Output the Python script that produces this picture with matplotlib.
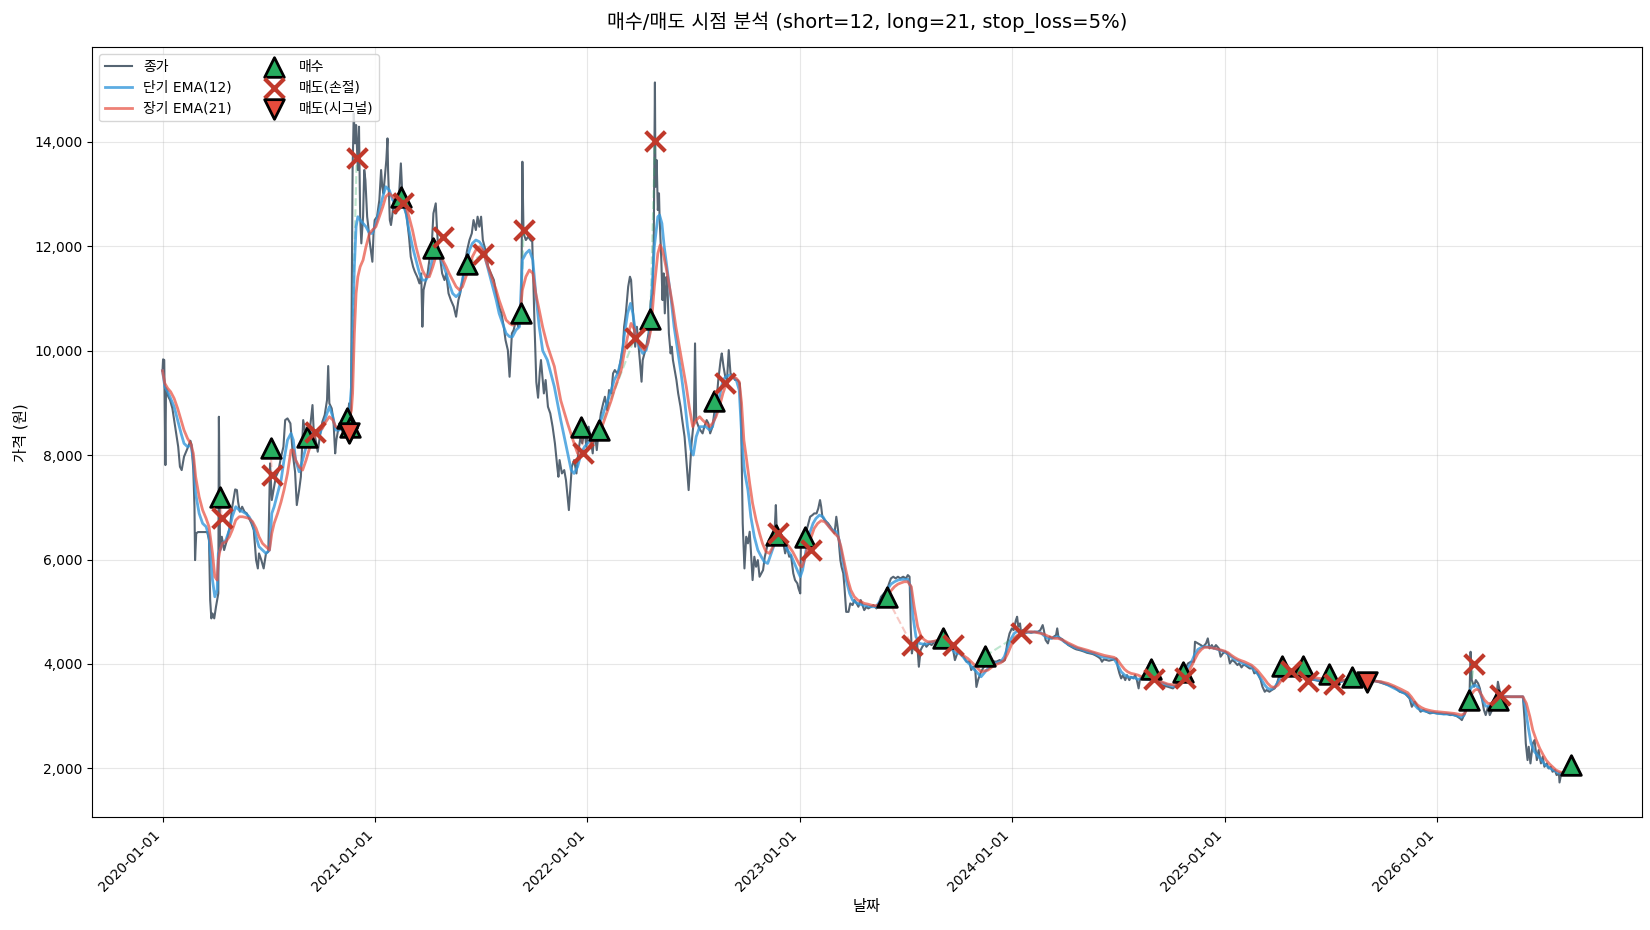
import numpy as np
import pandas as pd
import matplotlib
matplotlib.use('Agg')
from matplotlib import pyplot as plt
from matplotlib.ticker import FuncFormatter
import matplotlib.dates as mdates

plt.rcParams['font.family'] = ['DejaVu Sans', 'Noto Sans CJK KR']
plt.rcParams['axes.unicode_minus'] = False

START = pd.Timestamp('2020-01-01')

# (days since 2020-01-01, price)
close_pts = [
    (0, 9617), (1, 9835), (3, 9822), (5, 7810), (6, 9279), (10, 9119), (13, 9055), (17, 8896),
    (20, 8672), (23, 8449), (27, 8161), (30, 7778), (33, 7714), (37, 7970), (43, 8130), (48, 8276),
    (50, 8193), (53, 7714), (55, 7012), (56, 5990), (58, 6501), (61, 6527), (77, 6527), (80, 6373),
    (82, 5224), (84, 4873), (86, 4968), (89, 4873), (92, 5096), (96, 5352), (97, 8736), (99, 6182),
    (102, 6437), (106, 6182), (110, 6341), (113, 6501), (116, 6629), (120, 7012), (125, 7344),
    (128, 7331), (130, 7108), (133, 6916), (137, 7012), (141, 6916), (145, 6884), (149, 6788),
    (153, 6692), (157, 6565), (161, 5990), (164, 5830), (166, 6118), (170, 5990), (174, 5830),
    (178, 6118), (182, 6150), (185, 7842), (188, 7140), (191, 7331), (195, 7587), (199, 7682),
    (204, 7970), (208, 8161), (211, 8672), (215, 8704), (220, 8608), (224, 8034), (228, 7682),
    (231, 7044), (235, 7331), (238, 7587), (242, 8672), (245, 8480), (250, 8289), (254, 8544),
    (258, 8960), (260, 8480), (263, 8321), (267, 8066), (271, 8385), (275, 8640), (279, 8768),
    (283, 9055), (285, 9707), (287, 8992), (291, 8896), (294, 8672), (297, 8034), (299, 8289),
    (302, 8480), (307, 8512), (311, 8417), (315, 8480), (318, 8672), (321, 8992), (324, 8608),
    (327, 13500), (329, 14547), (331, 13973), (333, 14324), (336, 13462), (338, 14292), (340, 12568),
    (342, 12057), (345, 12568), (347, 13462), (349, 13270), (352, 12568), (354, 12376), (356, 12121),
    (359, 11865), (361, 11705), (363, 12248), (365, 12504), (369, 12568), (373, 12887), (376, 13462),
    (378, 13142), (380, 13015), (383, 13398), (385, 13653), (387, 14068), (388, 13462), (391, 12504),
    (393, 12408), (395, 12568), (398, 12887), (400, 12759), (402, 12632), (404, 12823), (407, 13015),
    (410, 13589), (413, 12887), (416, 12759), (420, 12568), (424, 12185), (427, 11801), (431, 11610),
    (434, 11514), (438, 11418), (442, 11290), (445, 11482), (447, 10460), (449, 11163), (453, 11354),
    (456, 11482), (459, 11738), (463, 11993), (466, 12632), (470, 12823), (472, 12376), (474, 11993),
    (478, 11738), (481, 11482), (485, 11354), (488, 11482), (492, 11099), (496, 10971), (501, 10843),
    (505, 10652), (509, 10971), (512, 11099), (516, 11354), (519, 11610), (524, 11929), (528, 12121),
    (532, 12248), (535, 12504), (539, 12312), (542, 12568), (545, 12376), (548, 12568), (551, 12121),
    (554, 11993), (557, 11865), (560, 11610), (565, 11482), (570, 11354), (574, 11099), (579, 10843),
    (583, 10716), (587, 10460), (590, 10205), (594, 10013), (597, 9502), (601, 10333), (604, 10397),
    (608, 10588), (612, 10460), (615, 10716), (617, 10600), (619, 13621), (621, 12248), (625, 12121),
    (629, 12185), (633, 12121), (636, 12089), (640, 10460), (643, 9400), (646, 9100), (649, 9600),
    (651, 9822), (656, 9183), (659, 9439), (663, 8928), (667, 8800), (671, 8545), (675, 8225),
    (679, 7778), (681, 7586), (683, 7906), (687, 7650), (691, 7714), (694, 7522), (699, 6948),
    (704, 7778), (708, 7906), (712, 7650), (715, 8034), (719, 8353), (722, 8225), (726, 8481),
    (729, 8161), (733, 8545), (736, 8353), (740, 8034), (743, 8481), (747, 8097), (751, 8545),
    (754, 8800), (758, 8992), (761, 9119), (765, 8864), (768, 9247), (772, 9183), (775, 9566),
    (778, 9630), (782, 9566), (785, 9630), (789, 9886), (792, 10077), (794, 10460), (797, 10716),
    (799, 10971), (801, 11227), (804, 11418), (806, 11354), (808, 10971), (811, 10460), (813, 10077),
    (816, 10460), (819, 10077), (821, 9822), (824, 9407), (826, 9822), (829, 9949), (832, 10077),
    (836, 10333), (838, 10588), (840, 10971), (843, 11099), (845, 12121), (847, 15140), (848, 13142),
    (850, 13653), (852, 12695), (854, 13015), (855, 12568), (858, 11738), (860, 10971), (862, 11482),
    (864, 10716), (867, 11418), (869, 11099), (871, 10333), (874, 9949), (876, 10077), (878, 9822),
    (880, 9694), (884, 9439), (887, 9183), (891, 8928), (894, 8672), (898, 8353), (901, 7906),
    (905, 7331), (910, 8225), (914, 8672), (916, 10141), (918, 8672), (922, 8545), (925, 8481),
    (929, 8417), (932, 8545), (936, 8672), (939, 8608), (942, 8417), (946, 8545), (949, 8800),
    (953, 9055), (956, 9439), (960, 9822), (962, 9949), (965, 9694), (968, 9502), (971, 9439),
    (974, 10013), (977, 9566), (981, 9502), (985, 9439), (989, 9439), (993, 9375), (995, 8864),
    (998, 6693), (1001, 5830), (1004, 6437), (1007, 6310), (1010, 6533), (1012, 6182), (1015, 5607),
    (1018, 6054), (1021, 5862), (1024, 5990), (1027, 5671), (1030, 5735), (1033, 5798), (1036, 6054),
    (1040, 6246), (1043, 6373), (1047, 6437), (1050, 6373), (1053, 6565), (1055, 7044), (1057, 6437),
    (1061, 6310), (1064, 6373), (1067, 6373), (1071, 6118), (1074, 6246), (1078, 6054), (1081, 6086),
    (1085, 5735), (1088, 5607), (1092, 5543), (1094, 5447), (1097, 5351), (1098, 6246), (1101, 6437),
    (1104, 6373), (1108, 6565), (1111, 6693), (1114, 6820), (1118, 6852), (1121, 6884), (1125, 6884),
    (1128, 6980), (1131, 7140), (1133, 7012), (1135, 6820), (1139, 6757), (1142, 6725), (1145, 6693),
    (1149, 6629), (1152, 6565), (1156, 6501), (1159, 6820), (1162, 6565), (1164, 6246), (1166, 5990),
    (1168, 5862), (1171, 5735), (1173, 5479), (1176, 4998), (1180, 4998), (1183, 5160), (1187, 5128),
    (1190, 5224), (1194, 5160), (1197, 5096), (1201, 5224), (1204, 5128), (1207, 5032), (1211, 5096),
    (1214, 5064), (1219, 5096), (1223, 5128), (1228, 5064), (1232, 5160), (1236, 5288), (1241, 5351),
    (1245, 5383), (1250, 5550), (1253, 5639), (1257, 5671), (1261, 5639), (1265, 5671), (1269, 5639),
    (1274, 5671), (1279, 5639), (1282, 5703), (1285, 5671), (1287, 4713), (1289, 4202), (1291, 4330),
    (1295, 4266), (1298, 4394), (1301, 3947), (1304, 4266), (1307, 4330), (1311, 4394), (1314, 4330),
    (1319, 4394), (1323, 4362), (1328, 4426), (1331, 4394), (1335, 4458), (1338, 4426), (1342, 4458),
    (1345, 4426), (1349, 4394), (1352, 4330), (1355, 4394), (1360, 4266), (1363, 4074), (1367, 4202),
    (1370, 4266), (1374, 4202), (1378, 4138), (1383, 4043), (1388, 4043), (1391, 3883), (1394, 3947),
    (1398, 3883), (1400, 3560), (1403, 3700), (1408, 3851), (1413, 3947), (1418, 4100), (1425, 4060),
    (1434, 4043), (1440, 4075), (1445, 4043), (1449, 4075), (1453, 4394), (1457, 4585), (1461, 4681),
    (1464, 4649), (1468, 4841), (1470, 4905), (1472, 4713), (1475, 4777), (1477, 4585), (1480, 4649),
    (1484, 4585), (1488, 4617), (1494, 4598), (1500, 4617), (1506, 4617), (1510, 4649), (1514, 4745),
    (1516, 4649), (1519, 4458), (1523, 4394), (1526, 4522), (1530, 4490), (1533, 4522), (1537, 4553),
    (1539, 4681), (1541, 4522), (1545, 4490), (1548, 4471), (1551, 4426), (1555, 4394), (1558, 4362),
    (1563, 4330), (1568, 4298), (1572, 4279), (1577, 4266), (1581, 4253), (1586, 4234), (1590, 4215),
    (1595, 4202), (1600, 4190), (1604, 4170), (1609, 4138), (1613, 4106), (1616, 4043), (1619, 4087),
    (1624, 4075), (1628, 4062), (1633, 4075), (1637, 4087), (1641, 4106), (1643, 3947), (1646, 3819),
    (1649, 3723), (1652, 3787), (1656, 3691), (1659, 3787), (1663, 3691), (1666, 3755), (1670, 3723),
    (1673, 3787), (1676, 3691), (1679, 3532), (1681, 3691), (1685, 3755), (1689, 3819), (1695, 3735),
    (1706, 3700), (1718, 3596), (1729, 3564), (1738, 3532), (1747, 3628), (1758, 3883), (1764, 4011),
    (1769, 4043), (1774, 4043), (1776, 4426), (1781, 4394), (1786, 4362), (1790, 4330), (1795, 4394),
    (1798, 4490), (1801, 4298), (1805, 4362), (1808, 4298), (1812, 4362), (1817, 4298), (1820, 4139),
    (1824, 4203), (1828, 4235), (1833, 4171), (1836, 4011), (1840, 4075), (1844, 4043), (1849, 3979),
    (1852, 4011), (1856, 3934), (1859, 3979), (1862, 3979), (1866, 3947), (1870, 3915), (1875, 3915),
    (1878, 3819), (1882, 3851), (1885, 3788), (1889, 3692), (1892, 3564), (1896, 3468), (1899, 3500),
    (1904, 3468), (1908, 3500), (1913, 3532), (1917, 3628), (1922, 3819), (1927, 3883), (1931, 3915),
    (1936, 3883), (1940, 3851), (1945, 3819), (1950, 3788), (1954, 3768), (1959, 3756), (1964, 3743),
    (1970, 3724), (1976, 3705), (1982, 3692), (1987, 3679), (1993, 3660), (1999, 3660), (2005, 3641),
    (2010, 3628), (2016, 3628), (2028, 3660), (2039, 3724), (2051, 3743), (2062, 3724), (2073, 3692),
    (2085, 3679), (2096, 3640), (2108, 3596), (2119, 3551), (2128, 3468), (2137, 3436), (2145, 3340),
    (2149, 3180), (2154, 3277), (2159, 3180), (2164, 3085), (2169, 3117), (2174, 3085), (2180, 3053),
    (2186, 3066), (2192, 3053), (2197, 3050), (2203, 3040), (2209, 3045), (2215, 3021), (2220, 3025),
    (2226, 3002), (2232, 2957), (2235, 2925), (2240, 3053), (2244, 3180), (2248, 3308), (2250, 4234),
    (2252, 3691), (2256, 3564), (2259, 3691), (2263, 3627), (2266, 3532), (2270, 3308), (2273, 3117),
    (2276, 3021), (2280, 3180), (2283, 3021), (2287, 3117), (2290, 3244), (2294, 3308), (2297, 3659),
    (2301, 3436), (2304, 3372), (2309, 3372), (2314, 3372), (2323, 3372), (2332, 3372), (2340, 3372),
    (2343, 2925), (2345, 2478), (2348, 2159), (2350, 2414), (2353, 2095), (2357, 2478), (2360, 2542),
    (2364, 2159), (2367, 2350), (2371, 2095), (2374, 2223), (2377, 2031), (2381, 2095), (2384, 1999),
    (2388, 2031), (2391, 1935), (2395, 1967), (2398, 1871), (2402, 1903), (2403, 1730), (2406, 1903),
    (2415, 1960), (2423, 2000),
]

ema_short_pts = [
    (0, 9617), (4, 9311), (9, 9215), (14, 9087), (20, 8928), (26, 8672), (32, 8417), (37, 8225),
    (43, 8161), (49, 8193), (53, 7906), (57, 7267), (63, 6884), (69, 6693), (75, 6629), (80, 6437),
    (86, 5607), (90, 5288), (94, 5415), (96, 6118), (99, 6182), (103, 6310), (109, 6373), (115, 6565),
    (120, 6820), (126, 7012), (132, 6948), (138, 6916), (143, 6884), (149, 6820), (155, 6693),
    (161, 6437), (166, 6246), (172, 6182), (178, 6118), (184, 6182), (188, 6884), (192, 7012),
    (198, 7267), (204, 7523), (209, 7906), (215, 8289), (221, 8417), (225, 8289), (229, 7906),
    (235, 7682), (241, 7906), (247, 8161), (252, 8289), (258, 8480), (264, 8417), (270, 8385),
    (275, 8544), (281, 8736), (287, 8928), (293, 8736), (298, 8480), (304, 8480), (310, 8544),
    (316, 8608), (321, 8736), (325, 9311), (327, 10333), (330, 11610), (333, 12376), (336, 12568),
    (340, 12504), (345, 12440), (350, 12376), (356, 12248), (361, 12248), (367, 12440), (373, 12695),
    (379, 12951), (384, 13142), (390, 13079), (396, 12887), (402, 12823), (407, 12887), (413, 12823),
    (419, 12632), (424, 12312), (430, 11993), (436, 11738), (442, 11482), (447, 11354), (453, 11354),
    (459, 11482), (465, 11801), (470, 11993), (476, 11865), (482, 11674), (488, 11482), (493, 11290),
    (499, 11099), (505, 11035), (511, 11099), (516, 11354), (522, 11674), (528, 11929), (533, 12057),
    (539, 12121), (545, 12089), (551, 11993), (556, 11738), (562, 11482), (568, 11227), (574, 10971),
    (579, 10716), (585, 10524), (591, 10333), (597, 10269), (602, 10269), (608, 10397), (614, 10460),
    (619, 11738), (625, 11865), (631, 11929), (637, 11738), (642, 11099), (648, 10460), (654, 10000),
    (662, 9822), (674, 9311), (685, 8672), (697, 8034), (703, 7714), (708, 7650), (714, 7778),
    (720, 8034), (726, 8161), (731, 8225), (737, 8289), (743, 8353), (749, 8481), (754, 8672),
    (760, 8864), (766, 9055), (772, 9247), (777, 9439), (783, 9566), (789, 9822), (794, 10269),
    (800, 10716), (805, 10907), (809, 10716), (814, 10333), (820, 10077), (826, 9949), (832, 10013),
    (837, 10269), (841, 10971), (846, 11993), (852, 12568), (855, 12600), (859, 12440), (863, 11993),
    (869, 11482), (875, 10971), (880, 10460), (886, 10013), (892, 9566), (898, 9055), (903, 8545),
    (909, 8097), (913, 8002), (918, 8353), (924, 8545), (929, 8545), (935, 8545), (941, 8481),
    (946, 8545), (952, 8800), (958, 9119), (964, 9439), (969, 9502), (975, 9534), (981, 9502),
    (987, 9439), (992, 9247), (997, 8225), (1001, 7700), (1007, 7331), (1012, 6820), (1018, 6437),
    (1024, 6182), (1030, 6054), (1035, 5958), (1041, 5926), (1047, 6118), (1053, 6310), (1058, 6405),
    (1064, 6373), (1070, 6310), (1075, 6182), (1081, 6086), (1087, 5926), (1093, 5767), (1097, 5671),
    (1101, 5799), (1107, 6182), (1113, 6501), (1119, 6693), (1124, 6788), (1130, 6852), (1136, 6820),
    (1141, 6725), (1147, 6629), (1153, 6565), (1159, 6533), (1164, 6373), (1170, 5990), (1176, 5607),
    (1182, 5351), (1187, 5224), (1193, 5173), (1199, 5147), (1205, 5128), (1210, 5115), (1219, 5096),
    (1227, 5096), (1236, 5224), (1242, 5339), (1248, 5447), (1253, 5530), (1259, 5575), (1265, 5607),
    (1271, 5620), (1276, 5620), (1282, 5620), (1287, 5479), (1291, 4904), (1296, 4521), (1302, 4394),
    (1308, 4381), (1314, 4381), (1319, 4407), (1325, 4426), (1331, 4438), (1336, 4445), (1342, 4445),
    (1348, 4413), (1354, 4362), (1359, 4266), (1365, 4202), (1371, 4202), (1377, 4138), (1382, 4062),
    (1388, 3998), (1394, 3915), (1400, 3851), (1408, 3755), (1420, 3915), (1431, 4011), (1442, 4043),
    (1448, 4138), (1454, 4330), (1460, 4490), (1465, 4585), (1471, 4636), (1477, 4617), (1483, 4605),
    (1488, 4605), (1494, 4611), (1500, 4611), (1506, 4611), (1511, 4598), (1517, 4534), (1523, 4490),
    (1529, 4490), (1534, 4509), (1540, 4522), (1546, 4471), (1551, 4426), (1557, 4381), (1563, 4349),
    (1569, 4317), (1574, 4298), (1580, 4279), (1586, 4253), (1592, 4234), (1597, 4221), (1603, 4202),
    (1609, 4170), (1615, 4138), (1620, 4126), (1626, 4119), (1632, 4106), (1637, 4094), (1643, 3979),
    (1649, 3851), (1655, 3787), (1660, 3755), (1666, 3743), (1672, 3736), (1678, 3704), (1683, 3724),
    (1695, 3705), (1706, 3679), (1718, 3641), (1729, 3596), (1741, 3564), (1747, 3615), (1752, 3724),
    (1758, 3819), (1764, 3934), (1769, 4011), (1775, 4171), (1781, 4279), (1787, 4318), (1792, 4330),
    (1798, 4330), (1804, 4318), (1810, 4298), (1815, 4279), (1821, 4254), (1827, 4228), (1833, 4190),
    (1838, 4139), (1844, 4088), (1850, 4062), (1856, 4024), (1861, 3998), (1867, 3973), (1873, 3947),
    (1878, 3883), (1884, 3807), (1890, 3705), (1896, 3596), (1901, 3532), (1907, 3513), (1913, 3551),
    (1919, 3660), (1924, 3768), (1930, 3832), (1936, 3851), (1942, 3832), (1947, 3807), (1953, 3781),
    (1959, 3768), (1965, 3743), (1970, 3724), (1982, 3705), (1993, 3679), (2005, 3666), (2016, 3654),
    (2028, 3666), (2039, 3705), (2051, 3717), (2062, 3711), (2073, 3692), (2085, 3673), (2096, 3654),
    (2108, 3596), (2119, 3532), (2131, 3468), (2142, 3404), (2148, 3308), (2154, 3213), (2159, 3149),
    (2165, 3117), (2171, 3098), (2177, 3085), (2182, 3072), (2188, 3066), (2194, 3053), (2200, 3047),
    (2205, 3040), (2211, 3040), (2217, 3034), (2222, 3021), (2228, 3002), (2234, 2976), (2239, 3021),
    (2243, 3180), (2247, 3372), (2250, 3532), (2254, 3576), (2258, 3596), (2263, 3551), (2267, 3436),
    (2272, 3277), (2276, 3193), (2281, 3193), (2286, 3232), (2290, 3308), (2295, 3372), (2300, 3385),
    (2309, 3378), (2320, 3372), (2332, 3372), (2340, 3372), (2344, 3180), (2349, 2798), (2354, 2478),
    (2360, 2318), (2366, 2235), (2372, 2159), (2377, 2082), (2383, 2031), (2389, 1986), (2395, 1954),
    (2400, 1916), (2406, 1903), (2423, 1920),
]

ema_long_pts = [
    (0, 9617), (4, 9375), (9, 9279), (14, 9215), (20, 9087), (26, 8896), (32, 8672), (37, 8480),
    (43, 8321), (49, 8212), (53, 8034), (57, 7587), (63, 7203), (69, 6948), (75, 6788), (80, 6629),
    (86, 6118), (90, 5671), (94, 5607), (96, 5990), (99, 6182), (103, 6310), (109, 6341), (115, 6437),
    (120, 6565), (126, 6756), (132, 6820), (138, 6820), (143, 6807), (149, 6788), (155, 6725),
    (161, 6597), (166, 6437), (172, 6310), (178, 6246), (184, 6182), (188, 6501), (192, 6693),
    (198, 6884), (204, 7108), (209, 7331), (215, 7650), (221, 8098), (225, 8098), (229, 7906),
    (235, 7778), (241, 7714), (247, 7906), (252, 8098), (258, 8289), (264, 8385), (270, 8480),
    (275, 8512), (281, 8640), (287, 8736), (293, 8672), (298, 8544), (304, 8512), (310, 8544),
    (316, 8576), (321, 8672), (325, 8864), (327, 9183), (330, 10333), (333, 11099), (336, 11418),
    (340, 11610), (345, 11738), (350, 11993), (356, 12248), (361, 12312), (367, 12376), (373, 12568),
    (379, 12759), (384, 12951), (390, 13015), (396, 12951), (402, 12887), (407, 12887), (413, 12855),
    (419, 12759), (424, 12568), (430, 12312), (436, 11993), (442, 11738), (447, 11546), (453, 11418),
    (459, 11418), (465, 11610), (470, 11801), (476, 11801), (482, 11738), (488, 11610), (493, 11482),
    (499, 11354), (505, 11227), (511, 11163), (516, 11227), (522, 11418), (528, 11610), (533, 11801),
    (539, 11929), (545, 11993), (551, 11929), (556, 11738), (562, 11546), (568, 11354), (574, 11163),
    (579, 10971), (585, 10780), (591, 10588), (597, 10524), (602, 10492), (608, 10524), (614, 10588),
    (619, 11163), (625, 11418), (631, 11546), (637, 11482), (642, 11099), (648, 10780), (654, 10450),
    (662, 10100), (674, 9700), (685, 9050), (697, 8600), (708, 8225), (714, 8034), (720, 7970),
    (726, 8034), (731, 8097), (737, 8225), (743, 8289), (749, 8353), (754, 8481), (760, 8672),
    (766, 8864), (772, 9055), (777, 9247), (783, 9439), (789, 9630), (794, 9949), (800, 10269),
    (806, 10524), (812, 10397), (817, 10205), (823, 10077), (829, 10013), (835, 10141), (840, 10397),
    (846, 11227), (852, 11865), (856, 12025), (860, 11929), (866, 11610), (872, 11227), (878, 10843),
    (883, 10460), (889, 10077), (895, 9694), (901, 9311), (906, 8928), (912, 8545), (918, 8672),
    (924, 8736), (929, 8672), (935, 8608), (941, 8545), (946, 8608), (952, 8736), (958, 8928),
    (964, 9183), (969, 9343), (975, 9439), (981, 9502), (987, 9471), (992, 9407), (996, 9000),
    (1000, 8289), (1004, 7970), (1010, 7459), (1015, 7076), (1021, 6756), (1027, 6501), (1032, 6310),
    (1038, 6150), (1044, 6118), (1050, 6246), (1055, 6373), (1061, 6373), (1067, 6341), (1073, 6310),
    (1078, 6246), (1084, 6150), (1090, 6022), (1096, 5894), (1100, 5862), (1104, 5990), (1110, 6246),
    (1116, 6437), (1121, 6597), (1127, 6693), (1133, 6744), (1139, 6725), (1144, 6661), (1150, 6578),
    (1156, 6501), (1162, 6437), (1167, 6246), (1173, 5926), (1179, 5607), (1184, 5415), (1190, 5288),
    (1196, 5224), (1202, 5192), (1207, 5160), (1213, 5147), (1219, 5128), (1225, 5115), (1230, 5122),
    (1236, 5160), (1242, 5236), (1248, 5320), (1253, 5403), (1259, 5479), (1265, 5530), (1271, 5556),
    (1276, 5575), (1282, 5575), (1288, 5479), (1293, 5096), (1299, 4713), (1305, 4521), (1311, 4458),
    (1316, 4426), (1322, 4426), (1328, 4438), (1334, 4458), (1339, 4458), (1345, 4445), (1351, 4426),
    (1357, 4381), (1362, 4298), (1368, 4234), (1374, 4202), (1379, 4151), (1385, 4106), (1391, 4043),
    (1397, 3979), (1408, 3851), (1420, 3883), (1431, 3979), (1442, 4024), (1448, 4075), (1454, 4202),
    (1460, 4362), (1465, 4490), (1471, 4553), (1477, 4585), (1483, 4605), (1488, 4617), (1494, 4617),
    (1500, 4611), (1506, 4598), (1511, 4585), (1517, 4566), (1523, 4534), (1529, 4509), (1534, 4490),
    (1540, 4490), (1546, 4471), (1551, 4445), (1557, 4407), (1563, 4375), (1569, 4343), (1574, 4317),
    (1580, 4298), (1586, 4279), (1592, 4260), (1597, 4241), (1603, 4221), (1609, 4202), (1615, 4183),
    (1620, 4164), (1626, 4151), (1632, 4138), (1637, 4126), (1643, 4075), (1649, 3979), (1655, 3896),
    (1660, 3851), (1666, 3819), (1672, 3806), (1678, 3787), (1683, 3760), (1695, 3724), (1706, 3705),
    (1718, 3660), (1729, 3615), (1741, 3596), (1747, 3628), (1752, 3692), (1758, 3768), (1764, 3851),
    (1769, 3934), (1775, 4075), (1781, 4203), (1787, 4279), (1792, 4318), (1798, 4318), (1804, 4311),
    (1810, 4298), (1815, 4286), (1821, 4267), (1827, 4247), (1833, 4215), (1838, 4171), (1844, 4126),
    (1850, 4088), (1856, 4062), (1861, 4043), (1867, 4011), (1873, 3979), (1878, 3934), (1884, 3871),
    (1890, 3788), (1896, 3705), (1901, 3628), (1907, 3564), (1913, 3551), (1919, 3596), (1924, 3679),
    (1930, 3743), (1936, 3788), (1942, 3807), (1947, 3807), (1953, 3794), (1959, 3781), (1965, 3768),
    (1970, 3756), (1982, 3737), (1993, 3717), (2005, 3705), (2016, 3692), (2028, 3686), (2039, 3692),
    (2051, 3692), (2062, 3692), (2073, 3679), (2085, 3673), (2096, 3660), (2108, 3627), (2119, 3576),
    (2131, 3513), (2142, 3449), (2148, 3372), (2154, 3277), (2159, 3213), (2165, 3168), (2171, 3136),
    (2177, 3117), (2182, 3104), (2188, 3091), (2194, 3085), (2200, 3079), (2205, 3072), (2211, 3066),
    (2217, 3059), (2222, 3053), (2228, 3040), (2234, 3021), (2240, 3053), (2244, 3149), (2248, 3277),
    (2251, 3404), (2256, 3487), (2260, 3513), (2264, 3500), (2268, 3423), (2274, 3308), (2280, 3244),
    (2286, 3244), (2291, 3308), (2297, 3340), (2303, 3359), (2311, 3372), (2323, 3372), (2334, 3372),
    (2340, 3372), (2346, 3244), (2352, 2989), (2357, 2734), (2363, 2542), (2369, 2382), (2375, 2255),
    (2380, 2159), (2386, 2082), (2392, 2018), (2397, 1967), (2403, 1935), (2409, 1916), (2423, 1900),
]

# trade markers (days, price)
buy_pts = [
    (99, 7203), (186, 8130), (248, 8353), (318, 8704), (323, 8545), (410, 12951), (466, 11961),
    (524, 11661), (617, 10716), (720, 8545), (751, 8481), (839, 10601), (948, 9043), (1055, 6470),
    (1106, 6437), (1246, 5275), (1343, 4489), (1415, 4151), (1701, 3900), (1756, 3850),
    (1925, 3970), (1962, 3970), (2006, 3807), (2046, 3743), (2247, 3308), (2298, 3308), (2423, 2063),
]
stop_pts = [
    (102, 6788), (188, 7618), (262, 8449), (334, 13685), (413, 12823), (482, 12185), (551, 11852),
    (621, 12312), (724, 8047), (812, 10237), (847, 14017), (968, 9375), (1058, 6500), (1116, 6182),
    (1289, 4362), (1359, 4362), (1477, 4592), (1706, 3720), (1758, 3740), (1941, 3870),
    (1970, 3680), (2015, 3615), (2256, 3998), (2300, 3404),
]
signal_pts = [(320, 8430), (2071, 3660)]


def to_series(pts):
    days = np.array([p[0] for p in pts])
    vals = np.array([p[1] for p in pts], dtype=float)
    return START + pd.to_timedelta(days, unit='D'), vals


close_x, close_y = to_series(close_pts)
ema_s_x, ema_s_y = to_series(ema_short_pts)
ema_l_x, ema_l_y = to_series(ema_long_pts)
buy_x, buy_y = to_series(buy_pts)
stop_x, stop_y = to_series(stop_pts)
sig_x, sig_y = to_series(signal_pts)

fig = plt.figure(figsize=(16.5, 9.3), dpi=100)
ax = fig.add_subplot(111)
fig.subplots_adjust(left=0.0558, right=0.9949, top=0.949, bottom=0.121)

ax.plot(close_x, close_y, color='#2c3e50', alpha=0.8, linewidth=1.5, label='종가', zorder=2)
ax.plot(ema_s_x, ema_s_y, color='#3498db', alpha=0.8, linewidth=2, label='단기 EMA(12)', zorder=3)
ax.plot(ema_l_x, ema_l_y, color='#e74c3c', alpha=0.7, linewidth=2, label='장기 EMA(21)', zorder=3)

# connect each buy with the sell that closed it
sells = sorted(stop_pts + signal_pts)
for (bd, bp), (sd, sp) in zip(buy_pts, sells):
    c = '#27ae60' if sp > bp else '#e74c3c'
    ax.plot([START + pd.Timedelta(days=bd), START + pd.Timedelta(days=sd)], [bp, sp],
            color=c, linestyle='--', alpha=0.3, linewidth=1.5, zorder=2)

ax.scatter(buy_x, buy_y, marker='^', s=200, color='#27ae60', edgecolors='black',
           linewidths=2, label='매수', zorder=5)
ax.scatter(stop_x, stop_y, marker='x', s=200, color='#c0392b', linewidths=3,
           label='매도(손절)', zorder=5)
ax.scatter(sig_x, sig_y, marker='v', s=200, color='#e74c3c', edgecolors='black',
           linewidths=2, label='매도(시그널)', zorder=5)

ax.set_title('매수/매도 시점 분석 (short=12, long=21, stop_loss=5%)', fontsize=14, pad=14)
ax.set_xlabel('날짜', fontsize=11)
ax.set_ylabel('가격 (원)', fontsize=11)
ax.yaxis.set_major_formatter(FuncFormatter(lambda v, p: f'{int(v):,}'))
ax.xaxis.set_major_locator(mdates.YearLocator())
ax.xaxis.set_major_formatter(mdates.DateFormatter('%Y-%m-%d'))
plt.setp(ax.get_xticklabels(), rotation=45, ha='right')
ax.grid(True, alpha=0.3)
ax.legend(loc='upper left', ncol=2, fontsize=10)

fig.savefig('out.png', dpi=100)
